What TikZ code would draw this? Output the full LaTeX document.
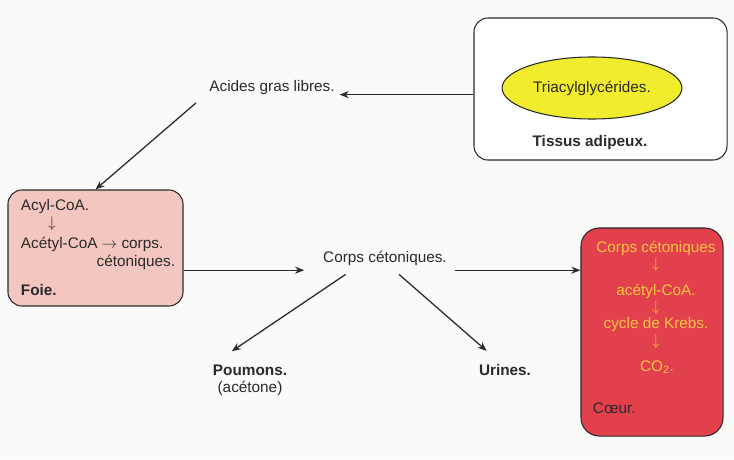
\documentclass[tikz,border=0pt]{standalone}
\usepackage{fontspec}
\setmainfont{Liberation Sans}
\usetikzlibrary{arrows.meta,shapes.geometric}
\definecolor{fond}{HTML}{FAFAF9}
\definecolor{rose}{HTML}{F3C6BF}
\definecolor{rouge}{HTML}{E2404C}
\definecolor{jaune}{HTML}{F2EC2E}
\definecolor{orjaune}{HTML}{F8C444}
\definecolor{trait}{HTML}{2A2A2A}
\begin{document}
\begin{tikzpicture}[x=0.025cm,y=-0.025cm,
		every node/.style={font=\fontsize{10.9}{13}\selectfont,text=trait},
		organe/.style={draw=trait,rounded corners=10pt,line width=0.75pt},
		fleche/.style={-{Stealth[length=6.5pt,width=5pt]},draw=trait,line width=0.9pt},
		gras/.style={font=\fontsize{10.9}{13}\selectfont\bfseries},
		krebs/.style={text=orjaune}]
\useasboundingbox[fill=fond] (0,0) rectangle (734,459);
% tissus adipeux
\node[organe,fill=white,minimum width=6.325cm,minimum height=3.55cm] (tissus) at (600.5,89) {};
\node[ellipse,draw=trait,fill=jaune,line width=0.75pt,minimum width=4.375cm,minimum height=1.55cm] (tag) at (592,88) {Triacylglycérides.};
\node[gras] (adipeux) at (590,143) {Tissus adipeux.};
\node (acides) at (272,88) {Acides gras libres.};
% foie
\node[organe,fill=rose,minimum width=4.375cm,minimum height=2.9cm] (foie) at (95.5,248) {};
\node[anchor=west] (acyl) at (16,207) {Acyl-CoA.};
\node (fl1) at (52,224) {$\downarrow$};
\node[anchor=west] (acetyl) at (16,244) {Acétyl-CoA $\rightarrow$ corps.};
\node[anchor=east] (ceto) at (180,262) {cétoniques.};
\node[gras,anchor=west] (foietxt) at (16,290) {Foie.};
% corps cetoniques
\node (corps) at (385,258) {Corps cétoniques.};
\node[gras] (poumons) at (250,370) {Poumons.};
\node (acetone) at (250,388) {(acétone)};
\node[gras] (urines) at (505,370) {Urines.};
% coeur
\node[organe,rounded corners=13pt,fill=rouge,minimum width=3.55cm,minimum height=5.2cm] (coeur) at (652,332) {};
\node[krebs] (k1) at (656,248) {Corps cétoniques};
\node[krebs] (k2) at (656,265) {$\downarrow$};
\node[krebs] (k3) at (656,291) {acétyl-CoA.};
\node[krebs] (k4) at (656,308) {$\downarrow$};
\node[krebs] (k5) at (656,325) {cycle de Krebs.};
\node[krebs] (k6) at (656,342) {$\downarrow$};
\node[krebs] (k7) at (657,367) {CO\textsubscript{2}.};
\node[anchor=west] (coeurtxt) at (588,408) {Cœur.};
% fleches
\draw[fleche] ([yshift=-4pt]tissus.west) -- ([yshift=-4pt]tissus.west -| acides.east);
\draw[fleche] ([xshift=-6pt,yshift=-2pt]acides.south west) -- (foie.north);
\draw[fleche] (foie.east |- corps.south) -- ([xshift=-10pt]corps.south west);
\draw[fleche] ([xshift=2pt]corps.south east) -- (coeur.west |- corps.south);
\draw[fleche] ([xshift=-28pt,yshift=-3pt]corps.south) -- ([xshift=-13pt,yshift=6pt]poumons.north);
\draw[fleche] ([xshift=10pt,yshift=-3pt]corps.south) -- ([xshift=-13pt,yshift=6pt]urines.north);
\end{tikzpicture}
\end{document}
